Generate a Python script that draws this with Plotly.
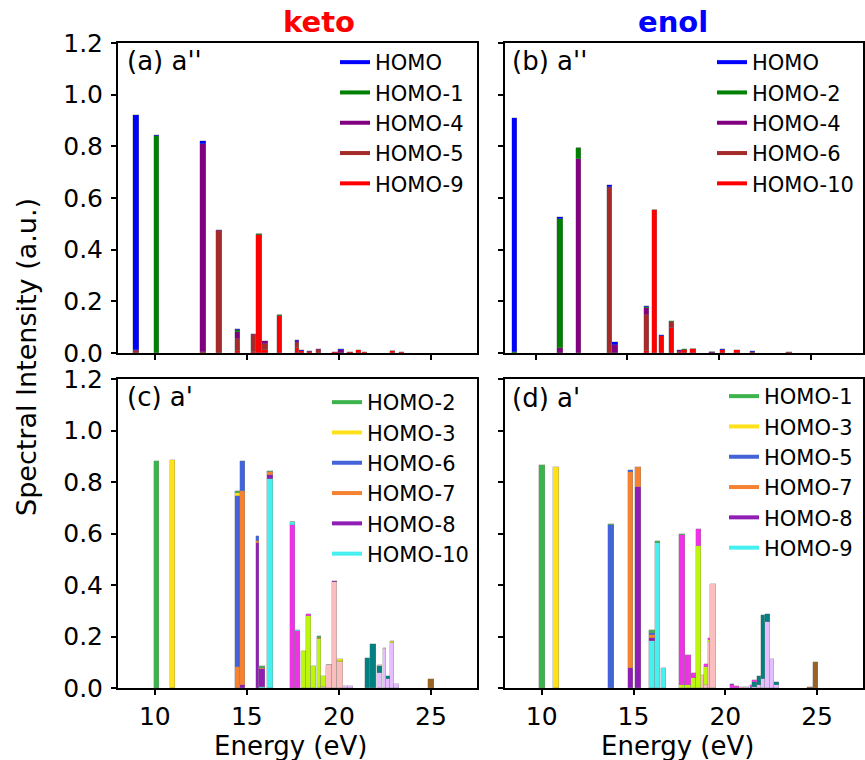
import plotly.graph_objects as go

# ---------------- data ----------------
# Panel (a): keto, a''
E_A = [8.97, 10.10, 12.63, 13.50, 14.49, 15.38, 15.65, 15.99, 16.77, 17.75,
       17.97, 18.40, 18.90, 19.80, 20.10, 20.60, 21.07, 21.40, 22.90, 23.40]
A_HOMO = [0.910, 0.003, 0.010, 0.000, 0.005, 0.000, 0.003, 0.000, 0.001, 0.004,
          0.002, 0.000, 0.000, 0.000, 0.004, 0.000, 0.000, 0.000, 0.000, 0.000]
A_HOMO1 = [0.000, 0.840, 0.000, 0.000, 0.006, 0.000, 0.004, 0.000, 0.002, 0.000,
           0.000, 0.000, 0.000, 0.000, 0.000, 0.000, 0.000, 0.000, 0.000, 0.000]
A_HOMO4 = [0.004, 0.000, 0.805, 0.006, 0.030, 0.002, 0.000, 0.011, 0.000, 0.010,
           0.000, 0.002, 0.004, 0.000, 0.010, 0.000, 0.000, 0.000, 0.002, 0.000]
A_HOMO5 = [0.006, 0.000, 0.004, 0.472, 0.045, 0.068, 0.000, 0.022, 0.000, 0.018,
           0.000, 0.000, 0.010, 0.000, 0.000, 0.000, 0.000, 0.000, 0.000, 0.000]
A_HOMO9 = [0.000, 0.000, 0.000, 0.000, 0.008, 0.002, 0.455, 0.012, 0.145, 0.020,
           0.008, 0.005, 0.000, 0.004, 0.000, 0.005, 0.012, 0.004, 0.006, 0.003]

# Panel (b): enol, a''
E_B = [8.84, 11.32, 12.33, 14.05, 14.33, 16.03, 16.47, 16.85, 17.39, 17.87,
       18.10, 18.58, 19.60, 20.17, 20.97, 21.80, 23.80]
B_HOMO = [0.905, 0.005, 0.002, 0.008, 0.009, 0.002, 0.002, 0.003, 0.000, 0.000,
          0.000, 0.002, 0.002, 0.004, 0.000, 0.002, 0.000]
B_HOMO2 = [0.005, 0.500, 0.043, 0.000, 0.000, 0.005, 0.000, 0.000, 0.003, 0.000,
           0.005, 0.000, 0.000, 0.000, 0.000, 0.000, 0.000]
B_HOMO4 = [0.000, 0.020, 0.750, 0.004, 0.032, 0.026, 0.000, 0.000, 0.000, 0.008,
           0.000, 0.000, 0.003, 0.000, 0.000, 0.000, 0.000]
B_HOMO6 = [0.000, 0.000, 0.000, 0.638, 0.000, 0.140, 0.000, 0.000, 0.022, 0.000,
           0.000, 0.000, 0.000, 0.000, 0.000, 0.004, 0.002]
B_HOMO10 = [0.000, 0.000, 0.000, 0.000, 0.000, 0.008, 0.553, 0.067, 0.097, 0.005,
            0.010, 0.014, 0.000, 0.010, 0.010, 0.000, 0.000]

# Panel (c): keto, a'
E_C = [10.08, 10.96, 14.48, 14.77, 15.62, 15.82, 16.26, 17.47, 17.75, 18.10,
       18.38, 18.62, 18.94, 19.18, 19.47, 19.76, 20.05, 20.35, 20.62, 21.55,
       21.84, 22.20, 22.53, 22.72, 22.93, 23.12, 25.00]
C_HOMO2 = [0.880, 0, 0.008, 0, 0, 0.008, 0.003, 0.003, 0, 0,
           0, 0, 0.007, 0, 0, 0, 0, 0, 0, 0,
           0, 0, 0, 0, 0, 0, 0]
C_HOMO3 = [0, 0.885, 0.012, 0, 0, 0, 0, 0, 0, 0,
           0, 0, 0, 0, 0.003, 0, 0.008, 0, 0, 0,
           0, 0, 0, 0, 0.004, 0, 0]
C_HOMO6 = [0, 0, 0.665, 0.115, 0.021, 0, 0, 0, 0, 0,
           0, 0, 0, 0, 0, 0, 0, 0, 0, 0,
           0, 0, 0, 0, 0, 0, 0]
C_HOMO7 = [0, 0, 0.080, 0.752, 0.006, 0.005, 0.012, 0, 0, 0,
           0, 0, 0.004, 0, 0, 0, 0, 0, 0, 0,
           0, 0, 0, 0, 0, 0, 0]
C_HOMO8 = [0, 0, 0, 0.013, 0.565, 0.070, 0.016, 0, 0, 0,
           0, 0, 0, 0, 0, 0.005, 0, 0, 0, 0,
           0, 0, 0, 0, 0, 0, 0]
C_HOMO10 = [0, 0, 0, 0, 0, 0.002, 0.810, 0.010, 0.006, 0,
            0, 0, 0, 0, 0, 0, 0, 0, 0, 0,
            0, 0, 0, 0, 0, 0, 0]
C_OTHER_MAGENTA = [0, 0, 0, 0, 0, 0, 0, 0.633, 0.220, 0,
                   0.008, 0, 0, 0, 0, 0, 0, 0, 0, 0,
                   0, 0, 0, 0, 0, 0, 0]
C_OTHER_LIME = [0, 0, 0, 0, 0, 0, 0, 0, 0, 0.143,
                0.280, 0.085, 0.190, 0.043, 0, 0, 0.005, 0, 0, 0,
                0, 0, 0, 0, 0.005, 0, 0]
C_OTHER_PINK = [0, 0, 0, 0, 0, 0, 0, 0, 0, 0,
                0, 0, 0, 0.005, 0.088, 0.411, 0.100, 0, 0, 0,
                0, 0.005, 0.007, 0, 0, 0, 0]
C_OTHER_TEAL = [0, 0, 0, 0, 0, 0, 0, 0, 0, 0,
                0, 0, 0, 0, 0, 0, 0, 0, 0, 0.115,
                0.172, 0.025, 0, 0.012, 0, 0, 0]
C_OTHER_LAVENDER = [0, 0, 0, 0, 0, 0, 0, 0, 0, 0,
                    0, 0, 0, 0, 0, 0, 0, 0.008, 0.008, 0,
                    0, 0.060, 0.150, 0.035, 0.173, 0.017, 0]
C_OTHER_BROWN = [0, 0, 0, 0, 0, 0, 0, 0, 0, 0,
                 0, 0, 0, 0, 0, 0, 0, 0, 0, 0,
                 0, 0, 0, 0, 0, 0, 0.035]

# Panel (d): enol, a'
E_D = [10.02, 10.78, 13.78, 14.83, 15.24, 16.02, 16.31, 16.62, 17.64, 17.97,
       18.28, 18.58, 18.85, 18.98, 19.20, 19.34, 20.40, 20.65, 20.90, 21.15,
       21.47, 21.61, 21.88, 22.10, 22.30, 22.57, 22.79, 24.60, 24.92]
D_HOMO1 = [0.865, 0, 0.004, 0, 0, 0.011, 0.004, 0, 0.003, 0,
           0, 0, 0, 0, 0, 0, 0, 0, 0, 0,
           0, 0, 0, 0, 0, 0, 0, 0, 0]
D_HOMO3 = [0, 0.860, 0, 0, 0, 0, 0, 0, 0, 0,
           0, 0, 0, 0, 0, 0, 0, 0, 0, 0,
           0, 0, 0, 0, 0, 0, 0, 0, 0]
D_HOMO5 = [0, 0, 0.632, 0.011, 0, 0.010, 0, 0, 0, 0,
           0, 0, 0, 0, 0, 0, 0, 0, 0, 0,
           0, 0, 0, 0, 0, 0, 0, 0, 0]
D_HOMO7 = [0, 0, 0, 0.759, 0.078, 0.008, 0, 0, 0, 0,
           0, 0, 0, 0, 0, 0, 0, 0, 0, 0,
           0, 0, 0, 0, 0, 0, 0, 0, 0]
D_HOMO8 = [0, 0, 0, 0.078, 0.779, 0.015, 0, 0, 0, 0,
           0, 0, 0, 0, 0, 0, 0.005, 0, 0, 0,
           0, 0, 0, 0, 0, 0, 0, 0, 0]
D_HOMO9 = [0, 0, 0, 0, 0, 0.181, 0.565, 0.078, 0, 0,
           0, 0, 0, 0, 0, 0, 0, 0, 0, 0,
           0, 0, 0, 0, 0, 0, 0, 0, 0]
D_OTHER_MAGENTA = [0, 0, 0, 0, 0, 0, 0, 0, 0.582, 0.117,
                   0.020, 0.067, 0, 0.015, 0.008, 0, 0.012, 0.008, 0, 0,
                   0.005, 0.005, 0, 0, 0, 0, 0, 0, 0]
D_OTHER_LIME = [0, 0, 0, 0, 0, 0, 0, 0, 0.013, 0.013,
                0.040, 0.552, 0, 0.070, 0.010, 0, 0, 0, 0, 0,
                0, 0, 0, 0, 0, 0, 0, 0, 0]
D_OTHER_PINK = [0, 0, 0, 0, 0, 0, 0, 0, 0, 0,
                0, 0, 0.050, 0.010, 0.177, 0.405, 0, 0, 0.005, 0,
                0, 0, 0, 0, 0, 0, 0, 0, 0]
D_OTHER_TEAL = [0, 0, 0, 0, 0, 0, 0, 0, 0, 0,
                0, 0, 0, 0, 0, 0, 0, 0, 0, 0,
                0.005, 0.020, 0.037, 0.250, 0.032, 0, 0.010, 0, 0]
D_OTHER_LAVENDER = [0, 0, 0, 0, 0, 0, 0, 0, 0, 0,
                    0, 0, 0, 0, 0, 0, 0, 0, 0, 0.004,
                    0, 0.005, 0.010, 0.035, 0.256, 0.112, 0.012, 0, 0]
D_OTHER_BROWN = [0, 0, 0, 0, 0, 0, 0, 0, 0, 0,
                 0, 0, 0, 0, 0, 0, 0, 0, 0, 0,
                 0, 0, 0, 0, 0, 0, 0, 0.005, 0.101]

X_TICKS = [10, 15, 20, 25]
Y_TICKS = [0.0, 0.2, 0.4, 0.6, 0.8, 1.0, 1.2]
Y_TICK_TEXT = ["0.0", "0.2", "0.4", "0.6", "0.8", "1.0", "1.2"]

# ---------------- styles ----------------
C_BLUE, C_GREEN, C_PURPLE, C_BROWN, C_RED = "#0000ff", "#008000", "#800080", "#a52a2a", "#ff0000"
K_GREEN, K_YELLOW, K_BLUE, K_ORANGE, K_PURPLE, K_CYAN = "#3cb44b", "#ffe119", "#4363d8", "#f58231", "#911eb4", "#46f0f0"
K_MAGENTA, K_LIME, K_PINK, K_TEAL, K_LAV, K_BROWN = "#f032e6", "#bcf60c", "#fabebe", "#008080", "#e6beff", "#9a6324"

FONT = "DejaVu Sans"
W, H = 865, 760
BAR_W = 0.3


def px_x(p):
    return p / W


def px_y(p):
    return 1 - p / H


def bar_widths(E, wmax=BAR_W):
    # bars drawn from E - w/2; a later bar hides the right part of an earlier one
    out = []
    for i in range(len(E)):
        w = wmax
        if i < len(E) - 1:
            w = min(w, E[i + 1] - E[i])
        out.append(w)
    return out


fig = go.Figure()

# series listed bottom -> top of stack
panels = [
    ("x", "y", "legend", E_A,
     [("HOMO-9", A_HOMO9, C_RED), ("HOMO-5", A_HOMO5, C_BROWN), ("HOMO-4", A_HOMO4, C_PURPLE),
      ("HOMO-1", A_HOMO1, C_GREEN), ("HOMO", A_HOMO, C_BLUE)],
     ["HOMO", "HOMO-1", "HOMO-4", "HOMO-5", "HOMO-9"]),
    ("x2", "y2", "legend2", E_B,
     [("HOMO-10", B_HOMO10, C_RED), ("HOMO-6", B_HOMO6, C_BROWN), ("HOMO-4", B_HOMO4, C_PURPLE),
      ("HOMO-2", B_HOMO2, C_GREEN), ("HOMO", B_HOMO, C_BLUE)],
     ["HOMO", "HOMO-2", "HOMO-4", "HOMO-6", "HOMO-10"]),
    ("x3", "y3", "legend3", E_C,
     [("brown", C_OTHER_BROWN, K_BROWN), ("lavender", C_OTHER_LAVENDER, K_LAV),
      ("teal", C_OTHER_TEAL, K_TEAL), ("pink", C_OTHER_PINK, K_PINK),
      ("lime", C_OTHER_LIME, K_LIME), ("magenta", C_OTHER_MAGENTA, K_MAGENTA),
      ("HOMO-10", C_HOMO10, K_CYAN), ("HOMO-8", C_HOMO8, K_PURPLE), ("HOMO-7", C_HOMO7, K_ORANGE),
      ("HOMO-6", C_HOMO6, K_BLUE), ("HOMO-3", C_HOMO3, K_YELLOW), ("HOMO-2", C_HOMO2, K_GREEN)],
     ["HOMO-2", "HOMO-3", "HOMO-6", "HOMO-7", "HOMO-8", "HOMO-10"]),
    ("x4", "y4", "legend4", E_D,
     [("brown", D_OTHER_BROWN, K_BROWN), ("lavender", D_OTHER_LAVENDER, K_LAV),
      ("teal", D_OTHER_TEAL, K_TEAL), ("pink", D_OTHER_PINK, K_PINK),
      ("lime", D_OTHER_LIME, K_LIME), ("magenta", D_OTHER_MAGENTA, K_MAGENTA),
      ("HOMO-9", D_HOMO9, K_CYAN), ("HOMO-8", D_HOMO8, K_PURPLE), ("HOMO-7", D_HOMO7, K_ORANGE),
      ("HOMO-5", D_HOMO5, K_BLUE), ("HOMO-3", D_HOMO3, K_YELLOW), ("HOMO-1", D_HOMO1, K_GREEN)],
     ["HOMO-1", "HOMO-3", "HOMO-5", "HOMO-7", "HOMO-8", "HOMO-9"]),
]

for xa, ya, lg, E, series, legend_names in panels:
    wd = bar_widths(E)
    colors = {}
    for name, vals, col in series:
        colors[name] = col
        fig.add_trace(go.Bar(
            x=E, y=[v if v > 0 else None for v in vals], width=wd,
            offset=[-BAR_W / 2] * len(E),
            marker=dict(color=col, line=dict(color="rgba(130,130,130,0.55)", width=0.6)),
            xaxis=xa, yaxis=ya, showlegend=False, name=name, hoverinfo="skip"))
    for name in legend_names:
        fig.add_trace(go.Scatter(
            x=[None], y=[None], mode="lines", name=name,
            line=dict(color=colors[name], width=4),
            xaxis=xa, yaxis=ya, legend=lg, showlegend=True))

X_DOM_L = [px_x(118), px_x(477)]
X_DOM_R = [px_x(505), px_x(863)]
Y_DOM_T = [px_y(353), px_y(43)]
Y_DOM_B = [px_y(688), px_y(379)]


def xax(dom, rng, anchor, labels):
    return dict(domain=dom, range=rng, anchor=anchor, tickvals=X_TICKS,
                showticklabels=labels, ticks="outside", ticklen=5, tickwidth=1.5,
                tickcolor="black", showline=True, linecolor="black", linewidth=2,
                mirror=True, showgrid=False, zeroline=False, automargin=False,
                ticklabelstandoff=0,
                tickfont=dict(family=FONT, size=25, color="black"))


def yax(dom, anchor, labels):
    return dict(domain=dom, range=[0, 1.2], anchor=anchor, tickvals=Y_TICKS,
                ticktext=Y_TICK_TEXT, showticklabels=labels, ticks="outside",
                ticklen=5, tickwidth=1.5, tickcolor="black", showline=True,
                linecolor="black", linewidth=2, mirror=True, showgrid=False,
                zeroline=False, automargin=False, ticklabelstandoff=3,
                tickfont=dict(family=FONT, size=25, color="black"))


def leg(xp, yp):
    return dict(x=px_x(xp), y=px_y(yp), xanchor="left", yanchor="top",
                bgcolor="rgba(0,0,0,0)", borderwidth=0, traceorder="normal",
                font=dict(family=FONT, size=21, color="black"),
                itemclick=False, itemdoubleclick=False)


fig.update_layout(
    width=W, height=H, margin=dict(l=0, r=0, t=0, b=0, autoexpand=False),
    paper_bgcolor="white", plot_bgcolor="white",
    barmode="stack", bargap=0,
    font=dict(family=FONT, color="black"),
    xaxis=xax(X_DOM_L, [8.0, 27.5], "y", False),
    yaxis=yax(Y_DOM_T, "x", True),
    xaxis2=xax(X_DOM_R, [8.33, 27.83], "y2", False),
    yaxis2=yax(Y_DOM_T, "x2", False),
    xaxis3=xax(X_DOM_L, [8.0, 27.5], "y3", True),
    yaxis3=yax(Y_DOM_B, "x3", True),
    xaxis4=xax(X_DOM_R, [8.0, 27.5], "y4", True),
    yaxis4=yax(Y_DOM_B, "x4", False),
    legend=leg(335, 42),
    legend2=leg(712, 42),
    legend3=leg(327, 382),
    legend4=leg(724, 376),
)

ann = [
    dict(text="<b>keto</b>", x=px_x(319), y=px_y(22), font=dict(size=29, color="#ff0000")),
    dict(text="<b>enol</b>", x=px_x(673), y=px_y(22), font=dict(size=29, color="#0000ff")),
    dict(text="Energy (eV)", x=px_x(290), y=px_y(746), font=dict(size=26, color="black")),
    dict(text="Energy (eV)", x=px_x(677), y=px_y(746), font=dict(size=26, color="black")),
    dict(text="Spectral Intensity (a.u.)", x=px_x(26), y=px_y(357), textangle=-90,
         font=dict(size=27, color="black")),
]
for a in ann:
    a.update(xref="paper", yref="paper", showarrow=False, xanchor="center", yanchor="middle")
    a["font"]["family"] = FONT

panel_labels = [("(a) a''", 125, 61), ("(b) a''", 510, 61), ("(c) a'", 125, 397), ("(d) a'", 510, 398)]
for t, xp, yp in panel_labels:
    ann.append(dict(text=t, x=px_x(xp), y=px_y(yp), xref="paper", yref="paper",
                    showarrow=False, xanchor="left", yanchor="middle",
                    font=dict(family=FONT, size=26, color="black")))

fig.update_layout(annotations=ann)
fig.write_html("out.html")
